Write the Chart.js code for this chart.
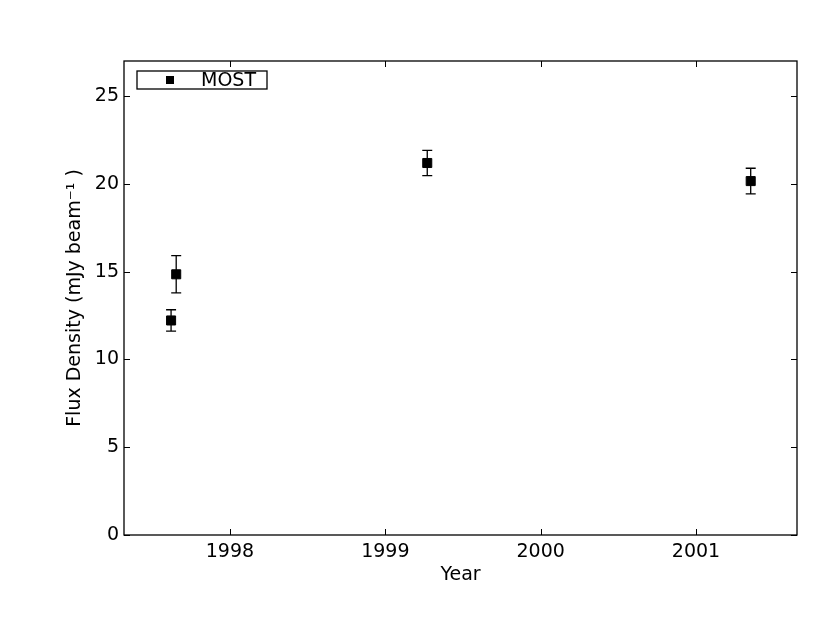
<!DOCTYPE html>
<html lang="en">
<head>
  <meta charset="UTF-8">
  <title>Flux Density vs Year</title>
  <script src="https://cdn.jsdelivr.net/npm/chart.js"></script>
  <style>
    body { margin: 0; background: #fff; }
    canvas { display: block; }
  </style>
</head>
<body>
  <canvas id="grafica" width="830" height="623"></canvas>

  <script>
    // datos
    const years = [1997.621, 1997.654, 1999.27, 2001.352];
    const flux = [12.22, 14.85, 21.19, 20.16];
    const fluxErr = [0.61, 1.06, 0.72, 0.73];
    const xTicks = [1998, 1999, 2000, 2001];
    const yTicks = [0, 5, 10, 15, 20, 25];
    const seriesLabel = 'MOST';

    const FONT = 'DejaVu Sans';

    // barras de error, marco, ticks hacia adentro y leyenda
    const extras = {
      id: 'extras',
      beforeDatasetsDraw(chart) {
        const ctx = chart.ctx;
        const xs = chart.scales.x, ys = chart.scales.y;
        ctx.save();
        ctx.strokeStyle = '#000';
        ctx.lineWidth = 1.3;
        years.forEach((yr, i) => {
          const px = xs.getPixelForValue(yr);
          const top = ys.getPixelForValue(flux[i] + fluxErr[i]);
          const bot = ys.getPixelForValue(flux[i] - fluxErr[i]);
          ctx.beginPath();
          ctx.moveTo(px, top); ctx.lineTo(px, bot);
          ctx.moveTo(px - 5, top); ctx.lineTo(px + 5, top);
          ctx.moveTo(px - 5, bot); ctx.lineTo(px + 5, bot);
          ctx.stroke();
        });
        ctx.restore();
      },
      afterDraw(chart) {
        const ctx = chart.ctx;
        const a = chart.chartArea;
        const xs = chart.scales.x, ys = chart.scales.y;
        ctx.save();
        ctx.strokeStyle = '#000';
        ctx.lineWidth = 1.3;
        ctx.strokeRect(a.left, a.top, a.right - a.left, a.bottom - a.top);
        ctx.lineWidth = 1;
        ctx.beginPath();
        xTicks.forEach(v => {
          const px = Math.round(xs.getPixelForValue(v)) + 0.5;
          ctx.moveTo(px, a.bottom); ctx.lineTo(px, a.bottom - 6);
          ctx.moveTo(px, a.top); ctx.lineTo(px, a.top + 6);
        });
        yTicks.forEach(v => {
          const py = Math.round(ys.getPixelForValue(v)) + 0.5;
          ctx.moveTo(a.left, py); ctx.lineTo(a.left + 6, py);
          ctx.moveTo(a.right, py); ctx.lineTo(a.right - 6, py);
        });
        ctx.stroke();

        // leyenda
        ctx.lineWidth = 1.3;
        ctx.fillStyle = '#fff';
        ctx.fillRect(137, 71, 130, 18);
        ctx.strokeRect(137, 71, 130, 18);
        ctx.fillStyle = '#000';
        ctx.fillRect(166, 76, 8, 8);
        ctx.font = '19px "' + FONT + '"';
        ctx.textBaseline = 'middle';
        ctx.textAlign = 'left';
        ctx.fillText(seriesLabel, 201, 81);
        ctx.restore();
      }
    };

    new Chart(document.getElementById('grafica').getContext('2d'), {
      type: 'scatter',
      data: {
        datasets: [{
          label: seriesLabel,
          data: years.map((x, i) => ({ x: x, y: flux[i] })),
          pointStyle: 'rect',
          pointRadius: 6.4,
          pointHoverRadius: 6.4,
          backgroundColor: '#000',
          borderColor: '#000',
          borderWidth: 1
        }]
      },
      options: {
        responsive: false,
        animation: false,
        layout: { padding: { left: 0, top: 61, right: 33, bottom: 0 } },
        plugins: {
          legend: { display: false },
          tooltip: { enabled: false }
        },
        scales: {
          x: {
            type: 'linear',
            min: 1997.318,
            max: 2001.65,
            grid: { display: false, drawTicks: false },
            border: { display: false },
            afterBuildTicks: s => { s.ticks = xTicks.map(v => ({ value: v })); },
            afterFit: s => { s.height = 88; },
            ticks: {
              padding: 6,
              color: '#000',
              font: { family: FONT, size: 19 },
              callback: v => String(v)
            },
            title: {
              display: true,
              text: 'Year',
              color: '#000',
              font: { family: FONT, size: 19 },
              padding: { top: 0, bottom: 37 }
            }
          },
          y: {
            min: 0,
            max: 27,
            grid: { display: false, drawTicks: false },
            border: { display: false },
            afterBuildTicks: s => { s.ticks = yTicks.map(v => ({ value: v })); },
            afterFit: s => { s.width = 124; },
            ticks: {
              padding: 5,
              color: '#000',
              font: { family: FONT, size: 19 },
              callback: v => String(v)
            },
            title: {
              display: true,
              text: 'Flux Density (mJy beam⁻¹ )',
              color: '#000',
              font: { family: FONT, size: 19 },
              padding: { top: 64, bottom: 0 }
            }
          }
        }
      },
      plugins: [extras]
    });
  </script>
</body>
</html>
